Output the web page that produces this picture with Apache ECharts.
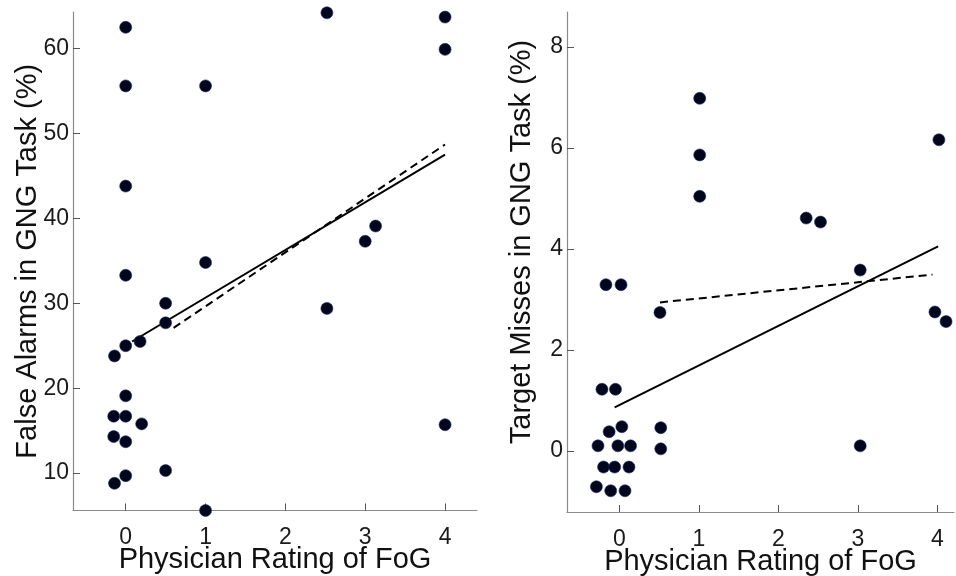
<!DOCTYPE html>
<html>
<head>
<meta charset="utf-8">
<script src="https://cdn.jsdelivr.net/npm/echarts@6/dist/echarts.min.js"></script>
<style>
html, body { margin: 0; padding: 0; background: #fff; }
#chart { width: 956px; height: 576px; }
</style>
</head>
<body>
<div id="chart"></div>
<script>
// left panel: false alarms vs FoG rating
var faFog = [0, 0, 1, 0, 0, 1, 0.5, 0.5, 0.18, 0, -0.14, 0, -0.15, 0, 0.2, -0.15, 0, 0, -0.14, 0.5, 1,
             2.52, 4, 4, 3.13, 3, 2.52, 4];
var faVal = [62.5, 55.6, 55.6, 43.8, 33.3, 34.8, 30, 27.7, 25.5, 25.0, 23.8, 19.1, 16.7, 16.7, 15.8, 14.3, 13.7, 9.7, 8.8, 10.3, 5.6,
             64.2, 63.7, 59.9, 39.1, 37.3, 29.4, 15.7];
var faFitSolid = [[0.08, 25.5], [4, 47.5]];
var faFitDash = [[0.6, 27.1], [4, 48.7]];
var faTicks = [10, 20, 30, 40, 50, 60];

// right panel: target misses vs FoG rating
var tmFog = [1.01, 1.01, 1.01, -0.17, 0.02, 0.51, -0.22, -0.05, 0.03, -0.13, 0.52, -0.27, -0.02, 0.14, 0.52,
             -0.2, -0.06, 0.12, -0.29, -0.11, 0.07, 2.35, 2.53, 3.03, 4.02, 3.97, 4.11, 3.03];
var tmVal = [6.98, 5.86, 5.04, 3.29, 3.29, 2.74, 1.22, 1.22, 0.48, 0.38, 0.46, 0.10, 0.10, 0.10, 0.04,
             -0.32, -0.32, -0.32, -0.71, -0.79, -0.79, 4.61, 4.53, 3.58, 6.16, 2.75, 2.56, 0.10];
var tmFitSolid = [[-0.06, 0.86], [4.01, 4.05]];
var tmFitDash = [[0.51, 2.94], [3.94, 3.49]];
var tmTicks = [0, 2, 4, 6, 8];

var fogTicks = [0, 1, 2, 3, 4];

function pairs(xs, ys) {
  return xs.map(function (x, i) { return [x, ys[i]]; });
}

var font = "'Liberation Sans', Arial, sans-serif";
var axisGray = '#8a8a8a';
var dotColor = '#02061c';

function xAx(idx, min, max, name) {
  return {
    type: 'value', gridIndex: idx, min: min, max: max,
    name: name, nameLocation: 'middle', nameGap: 35, nameMoveOverlap: false,
    nameTextStyle: { fontFamily: font, fontSize: 29, color: '#111' },
    axisLine: { onZero: false, lineStyle: { color: axisGray, width: 1.2 } },
    axisTick: { inside: true, length: 7, customValues: fogTicks, lineStyle: { color: '#555' } },
    axisLabel: { customValues: fogTicks, fontFamily: font, fontSize: 23, color: '#1a1a1a', margin: 16 },
    splitLine: { show: false }
  };
}

function yAx(idx, min, max, name, ticks, pad) {
  return {
    type: 'value', gridIndex: idx, min: min, max: max,
    name: name, nameLocation: 'middle', nameGap: 31, nameMoveOverlap: false,
    nameTextStyle: { fontFamily: font, fontSize: 29, color: '#111', padding: pad },
    axisLine: { show: true, onZero: false, lineStyle: { color: axisGray, width: 1.2 } },
    axisTick: { show: true, inside: true, length: 7, customValues: ticks, lineStyle: { color: '#555' } },
    axisLabel: { customValues: ticks, fontFamily: font, fontSize: 23, color: '#1a1a1a', margin: 4 },
    splitLine: { show: false }
  };
}

function fit(idx, data, dashed) {
  return {
    type: 'line', xAxisIndex: idx, yAxisIndex: idx, data: data,
    symbol: 'none', silent: true, z: 1,
    lineStyle: { color: '#000', width: 2, type: dashed ? [8, 5] : 'solid' }
  };
}

function dots(idx, data) {
  return {
    type: 'scatter', xAxisIndex: idx, yAxisIndex: idx, data: data,
    symbolSize: 12, z: 3,
    itemStyle: { color: dotColor, opacity: 1, borderColor: '#1a2a6a', borderWidth: 0.6 }
  };
}

var myChart = echarts.init(document.getElementById('chart'));
option = {
  animation: false,
  backgroundColor: '#fff',
  grid: [
    { left: 73, top: 12, width: 404, height: 498.5, outerBoundsMode: 'none' },
    { left: 567, top: 12, width: 387, height: 500, outerBoundsMode: 'none' }
  ],
  xAxis: [
    xAx(0, -0.66, 4.4, 'Physician Rating of FoG'),
    xAx(1, -0.66, 4.21, 'Physician Rating of FoG')
  ],
  yAxis: [
    yAx(0, 5.6, 64.3, 'False Alarms in GNG Task (%)', faTicks, [0, 0, 0, 0]),
    yAx(1, -1.21, 8.69, 'Target Misses in GNG Task (%)', tmTicks, [0, 0, 0, 40])
  ],
  series: [
    fit(0, faFitSolid, false),
    fit(0, faFitDash, true),
    dots(0, pairs(faFog, faVal)),
    fit(1, tmFitSolid, false),
    fit(1, tmFitDash, true),
    dots(1, pairs(tmFog, tmVal))
  ]
};
myChart.setOption(option);
</script>
</body>
</html>
